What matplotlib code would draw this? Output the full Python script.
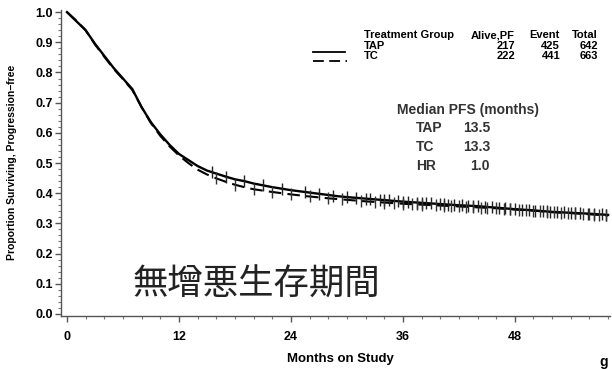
import numpy as np
import matplotlib
matplotlib.use("Agg")
import matplotlib.pyplot as plt
from matplotlib.ticker import MultipleLocator

# ---- data ----
months_tap = [0, 1, 2, 3, 4, 5, 6, 7, 8, 9, 10, 11, 12, 13, 14, 15, 16, 17, 18, 19, 20,
              21, 22, 23, 24, 25, 26, 27, 28, 29, 30, 32, 34, 36, 38, 40, 42, 44, 46,
              48, 50, 52, 54, 56, 58]
surv_tap = [1.0, 0.97, 0.94, 0.895, 0.855, 0.815, 0.78, 0.745, 0.685, 0.635, 0.595,
            0.56, 0.53, 0.51, 0.49, 0.475, 0.465, 0.455, 0.446, 0.44, 0.432,
            0.426, 0.42, 0.415, 0.41, 0.406, 0.402, 0.398, 0.394, 0.39, 0.387,
            0.382, 0.377, 0.372, 0.368, 0.364, 0.36, 0.357, 0.352,
            0.347, 0.343, 0.338, 0.335, 0.332, 0.328]
months_tc = [0, 1, 2, 3, 4, 5, 6, 7, 8, 9, 10, 11, 12, 13, 14, 15, 16, 17, 18, 19, 20,
             22, 24, 26, 28, 30, 32, 34, 36, 38, 40, 42, 44, 46, 48, 50, 52, 54, 56, 58]
surv_tc = [1.0, 0.972, 0.94, 0.893, 0.852, 0.812, 0.778, 0.742, 0.685, 0.632, 0.59,
           0.555, 0.525, 0.5, 0.478, 0.462, 0.449, 0.438, 0.428, 0.42, 0.413,
           0.404, 0.396, 0.389, 0.383, 0.378, 0.373, 0.369, 0.365, 0.362, 0.359,
           0.356, 0.353, 0.35, 0.346, 0.342, 0.337, 0.334, 0.33, 0.326]
censor_tap = [15.5, 17, 19, 21, 23, 25.5, 27, 28.5, 30, 31, 32, 32.5, 33.5, 34, 34.5,
              35.5, 36, 36.5, 37.5, 38, 38.5, 39, 40, 40.4, 40.8, 41.5, 42.3, 43, 43.5,
              44, 44.8, 45.5, 46.3, 47, 47.5, 48, 48.8, 49.5, 50.2, 51, 51.4, 51.8,
              52.5, 53.3, 54, 54.5, 55, 55.8, 56.5, 57.3, 57.8]
censor_tc = [16, 18, 20, 22, 24, 26, 28, 29.5, 31.5, 33, 34, 35, 36, 37, 37.5, 38,
             39.5, 40.4, 41.2, 42, 42.8, 43.5, 44.4, 45, 46, 46.8, 47.5, 48.4, 49.2,
             50, 50.7, 51.4, 52.2, 53, 53.7, 54.5, 55.3, 56, 56.5, 57, 57.8]

xticks = [0, 12, 24, 36, 48]
yticks = [0.0, 0.1, 0.2, 0.3, 0.4, 0.5, 0.6, 0.7, 0.8, 0.9, 1.0]

legend_groups = ["TAP", "TC"]
alive_pf = [217, 222]
events = [425, 441]
totals = [642, 663]
median_labels = ["TAP", "TC", "HR"]
median_values = ["13.5", "13.3", "1.0"]

W, H = 612, 369
fig = plt.figure(figsize=(W / 100, H / 100), dpi=100)
ax = fig.add_axes([61 / W, 1 - 316 / H, (610 - 61) / W, (316 - 10) / H])

bold = dict(family="Liberation Sans", weight="bold")

ax.plot(months_tap, surv_tap, color="black", lw=1.7, solid_joinstyle="round")
ax.plot(months_tc, surv_tc, color="black", lw=1.5, dashes=(6, 3))
ct_y = np.interp(censor_tap, months_tap, surv_tap)
cc_y = np.interp(censor_tc, months_tc, surv_tc)
ax.plot(censor_tap, ct_y, linestyle="none", marker="|", ms=8, mew=1.0, color="#222222")
ax.plot(censor_tc, cc_y, linestyle="none", marker="|", ms=8, mew=1.0, color="#333333")

ax.set_xlim(-0.64, 58.2)
ax.set_ylim(-0.007, 1.007)
ax.spines["top"].set_visible(False)
ax.spines["right"].set_visible(False)
for s in ("left", "bottom"):
    ax.spines[s].set_color("#555555")
    ax.spines[s].set_linewidth(1.0)
ax.set_xticks(xticks)
ax.set_yticks(yticks)
ax.set_yticklabels([f"{v:.1f}" for v in yticks])
ax.xaxis.set_minor_locator(MultipleLocator(2))
ax.yaxis.set_minor_locator(MultipleLocator(0.02))
ax.tick_params(which="major", direction="out", length=4, width=1, color="#555555")
ax.tick_params(which="minor", direction="out", length=2, width=0.8, color="#777777")
for lab in ax.get_xticklabels() + ax.get_yticklabels():
    lab.set_fontfamily("Liberation Sans")
    lab.set_fontweight("bold")
    lab.set_fontsize(9)
ax.tick_params(axis="y", pad=2)
ax.tick_params(axis="x", pad=7)

fig.text(340 / W, 1 - 359 / H, "Months on Study", ha="center", va="center", fontsize=9.5, **bold)
fig.text(12 / W, 1 - 162 / H, "Proportion Surviving, Progression\u2212free", rotation=90,
         ha="center", va="center", fontsize=7.5, **bold)
fig.text(604 / W, 1 - 362 / H, "g", ha="center", va="center", fontsize=10, **bold)

# legend table
fs = 8
fig.text(364 / W, 1 - 35 / H, "Treatment Group", ha="left", va="center", fontsize=fs, **bold)
fig.text(515 / W, 1 - 35 / H, "Alive,PF", ha="right", va="center", fontsize=fs, **bold)
fig.text(560 / W, 1 - 35 / H, "Event", ha="right", va="center", fontsize=fs, **bold)
fig.text(598 / W, 1 - 35 / H, "Total", ha="right", va="center", fontsize=fs, **bold)
row_y = [46, 56]
for i, g in enumerate(legend_groups):
    yy = 1 - row_y[i] / H
    fig.text(364 / W, yy, g, ha="left", va="center", fontsize=fs, **bold)
    fig.text(515 / W, yy, str(alive_pf[i]), ha="right", va="center", fontsize=fs, **bold)
    fig.text(560 / W, yy, str(events[i]), ha="right", va="center", fontsize=fs, **bold)
    fig.text(598 / W, yy, str(totals[i]), ha="right", va="center", fontsize=fs, **bold)
fig.add_artist(plt.Line2D([313 / W, 345 / W], [1 - 52 / H] * 2, color="black", lw=1.3))
fig.add_artist(plt.Line2D([313 / W, 347 / W], [1 - 61 / H] * 2, color="black", lw=1.3,
                          dashes=(6, 3)))

# median PFS block
gray = "#333333"
mfs = 10
fig.text(397 / W, 1 - 110 / H, "Median PFS (months)", ha="left", va="center",
         fontsize=mfs, color=gray, **bold)
med_y = [128, 147, 166]
for i, lab in enumerate(median_labels):
    yy = 1 - med_y[i] / H
    fig.text(416 / W, yy, lab, ha="left", va="center", fontsize=mfs, color=gray, **bold)
    fig.text(490 / W, yy, median_values[i], ha="right", va="center", fontsize=mfs,
             color=gray, **bold)

fig.text(133 / W, 1 - 285 / H, "無增悪生存期間", ha="left", va="center", fontsize=25.5,
         color="#222222", family=["Noto Sans CJK JP", "DejaVu Sans"])

fig.savefig("out.png", dpi=100)
